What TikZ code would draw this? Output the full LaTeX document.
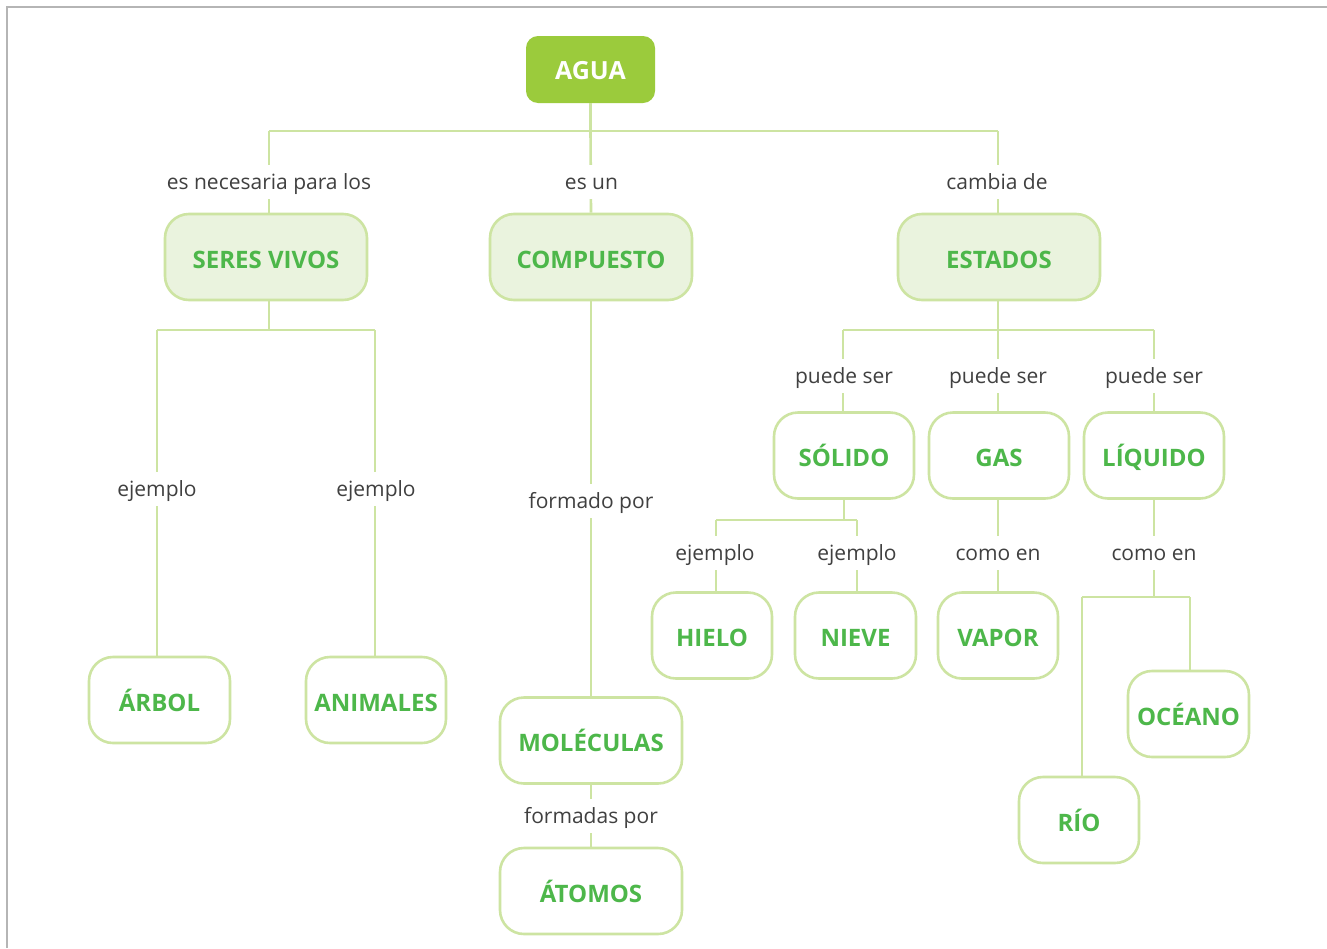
\documentclass[tikz,border=0pt]{standalone}
\usepackage{fontspec}
\setmainfont{Open Sans}
\definecolor{lnk}{HTML}{CDE4A2}
\definecolor{ntext}{HTML}{4DB74A}
\definecolor{nfill}{HTML}{EAF3DE}
\definecolor{topfill}{HTML}{9BCB3C}
\definecolor{lbl}{HTML}{404040}
\definecolor{frame}{HTML}{B5B5B5}
\begin{document}
\begin{tikzpicture}[x=1pt,y=-1pt,
  conn/.style={draw=lnk,line width=2.6pt},
  cbox/.style={draw=lnk,line width=2.6pt,rounded corners=24pt,fill=white,
     text=ntext,font=\fontsize{24}{28}\selectfont\bfseries,inner sep=0pt,
     text height=22pt,text depth=0pt,
     minimum width=140pt,minimum height=86pt},
  mainbox/.style={cbox,fill=nfill,minimum width=202pt},
  topbox/.style={fill=topfill,rounded corners=12pt,text=white,font=\fontsize{25}{30}\selectfont\bfseries,
     minimum width=129pt,minimum height=67pt,inner sep=0pt,text height=20pt,text depth=0pt},
  lab/.style={fill=white,text=lbl,font=\fontsize{21}{25}\selectfont,inner xsep=2pt,inner ysep=9pt,
     text height=15.5pt,text depth=0pt}]
\useasboundingbox (0,0) rectangle (1327,948);
\fill[white] (0,0) rectangle (1327,948);
\draw[frame,line width=2.2pt] (7,948) -- (7,7) -- (1327,7);

% nodes
\node[topbox] (agua) at (590.5,69.5) {AGUA};
\node[mainbox] (seres) at (266,257) {SERES VIVOS};
\node[mainbox] (comp) at (591,257) {COMPUESTO};
\node[mainbox] (est) at (999,257) {ESTADOS};
\node[cbox,minimum width=141pt] (arbol) at (159.5,700) {ÁRBOL};
\node[cbox,minimum width=140pt] (anim) at (376,700) {ANIMALES};
\node[cbox,minimum width=182pt] (mol) at (591,740.5) {MOLÉCULAS};
\node[cbox,minimum width=182pt] (atom) at (591,891) {ÁTOMOS};
\node[cbox] (sol) at (844,455.5) {SÓLIDO};
\node[cbox] (gas) at (999,455.5) {GAS};
\node[cbox] (liq) at (1154,455.5) {LÍQUIDO};
\node[cbox,minimum width=120pt] (hielo) at (712,635.5) {HIELO};
\node[cbox,minimum width=121pt] (nieve) at (855.5,635.5) {NIEVE};
\node[cbox,minimum width=120pt] (vapor) at (998,635.5) {VAPOR};
\node[cbox,minimum width=121pt] (oceano) at (1188.5,714) {OCÉANO};
\node[cbox,minimum width=120pt] (rio) at (1079,820) {RÍO};

% junction coordinates
\coordinate (j1) at (590.5,131);
\coordinate (j1l) at (269,131);
\coordinate (j1r) at (998,131);
\coordinate (j2) at (269,330);
\coordinate (j2l) at (157,330);
\coordinate (j2r) at (375,330);
\coordinate (j3) at (998,330);
\coordinate (j3l) at (843,330);
\coordinate (j3r) at (1154,330);
\coordinate (j4) at (844,520);
\coordinate (j4l) at (716,520);
\coordinate (j4r) at (857,520);
\coordinate (j5) at (1154,597);
\coordinate (j5l) at (1082,597);
\coordinate (j5r) at (1190,597);

\draw[conn] (agua.south) -- (j1);
\draw[conn] (j1l) -- (j1r);
\draw[conn] (j1l) -- (j1l |- seres.north);
\draw[conn] (j1) -- (comp.north);
\draw[conn] (j1r) -- (j1r |- est.north);
\draw[conn] (j2 |- seres.south) -- (j2);
\draw[conn] (j2l) -- (j2r);
\draw[conn] (j2l) -- (j2l |- arbol.north);
\draw[conn] (j2r) -- (j2r |- anim.north);
\draw[conn] (comp.south) -- (mol.north);
\draw[conn] (mol.south) -- (atom.north);
\draw[conn] (j3 |- est.south) -- (j3);
\draw[conn] (j3l) -- (j3r);
\draw[conn] (j3l) -- (j3l |- sol.north);
\draw[conn] (j3) -- (j3 |- gas.north);
\draw[conn] (j3r) -- (liq.north);
\draw[conn] (sol.south) -- (j4);
\draw[conn] (j4l) -- (j4r);
\draw[conn] (j4l) -- (j4l |- hielo.north);
\draw[conn] (j4r) -- (j4r |- nieve.north);
\draw[conn] (j3 |- gas.south) -- (j3 |- vapor.north);
\draw[conn] (liq.south) -- (j5);
\draw[conn] (j5l) -- (j5r);
\draw[conn] (j5l) -- (j5l |- rio.north);
\draw[conn] (j5r) -- (j5r |- oceano.north);

% labels
\node[lab] (l1) at (269,182) {es necesaria para los};
\node[lab] (l2) at (591.5,182) {es un};
\node[lab] (l3) at (997,182) {cambia de};
\node[lab] (l4) at (157,489) {ejemplo};
\node[lab] (l5) at (376,489) {ejemplo};
\node[lab] (l6) at (591,501) {formado por};
\node[lab] (l7) at (591,816) {formadas por};
\node[lab] (l8) at (844,376) {puede ser};
\node[lab] (l9) at (998,376) {puede ser};
\node[lab] (l10) at (1154,376) {puede ser};
\node[lab] (l11) at (715,553) {ejemplo};
\node[lab] (l12) at (857,553) {ejemplo};
\node[lab] (l13) at (998,553) {como en};
\node[lab] (l14) at (1154,553) {como en};
\end{tikzpicture}
\end{document}
